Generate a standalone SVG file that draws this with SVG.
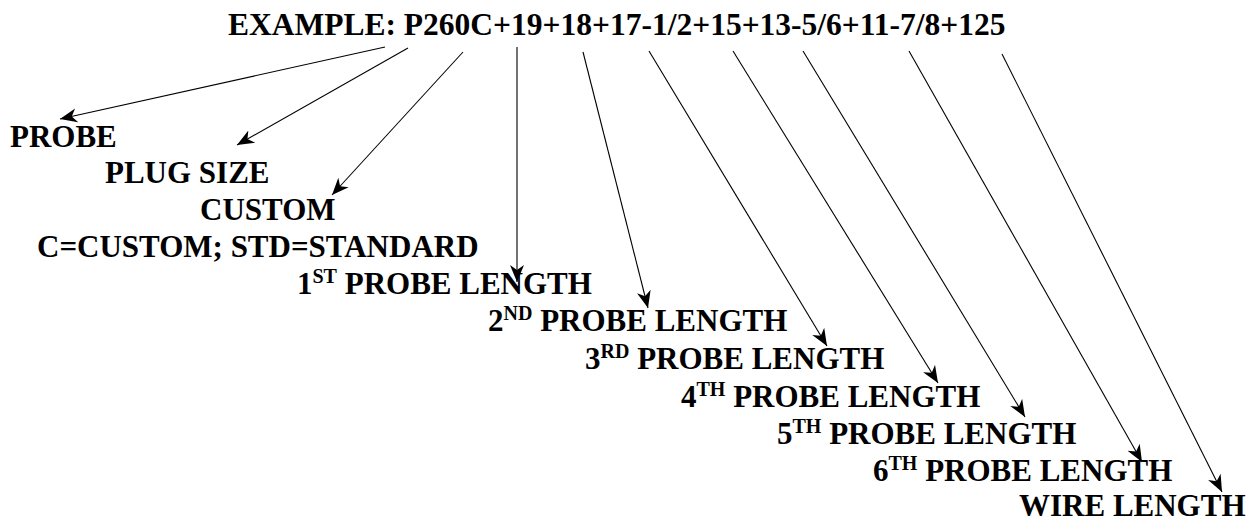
<svg xmlns="http://www.w3.org/2000/svg" width="1254" height="523" viewBox="0 0 1254 523">
<style>
text{font-family:"Liberation Serif","Times New Roman",serif;font-weight:bold;font-size:31px;fill:#000}
.sup{font-size:20px}
.c line{stroke:#000;stroke-width:1.1;marker-end:url(#ah)}
</style>
<defs>
<marker id="ah" markerUnits="userSpaceOnUse" viewBox="-17 -8 18 16" refX="0" refY="0" markerWidth="18" markerHeight="16" orient="auto">
<path d="M0,0 L-17,-7 L-12,0 L-17,7 Z" fill="#000"/>
</marker>
</defs>
<rect width="1254" height="523" fill="#fff"/>
<g id="title"><text x="228" y="35" style="font-size:31.5px">EXAMPLE: P260C+19+18+17-1/2+15+13-5/6+11-7/8+125</text></g>
<g id="probe"><text x="10" y="147">PROBE</text></g>
<g id="plugsize"><text x="105" y="183">PLUG SIZE</text></g>
<g id="custom"><text x="200" y="220">CUSTOM</text></g>
<g id="cstd"><text x="37" y="257">C=CUSTOM; STD=STANDARD</text></g>
<g id="p1"><text x="297" y="294">1<tspan class="sup" dy="-11">ST</tspan><tspan dy="11"> PROBE LENGTH</tspan></text></g>
<g id="p2"><text x="488" y="331">2<tspan class="sup" dy="-11">ND</tspan><tspan dy="11"> PROBE LENGTH</tspan></text></g>
<g id="p3"><text x="585" y="369">3<tspan class="sup" dy="-11">RD</tspan><tspan dy="11"> PROBE LENGTH</tspan></text></g>
<g id="p4"><text x="681" y="407">4<tspan class="sup" dy="-11">TH</tspan><tspan dy="11"> PROBE LENGTH</tspan></text></g>
<g id="p5"><text x="777" y="444">5<tspan class="sup" dy="-11">TH</tspan><tspan dy="11"> PROBE LENGTH</tspan></text></g>
<g id="p6"><text x="873" y="481">6<tspan class="sup" dy="-11">TH</tspan><tspan dy="11"> PROBE LENGTH</tspan></text></g>
<g id="wire"><text x="1019" y="516">WIRE LENGTH</text></g>
<g id="connectors" class="c">
<line x1="385" y1="47" x2="60" y2="119"/>
<line x1="408" y1="48" x2="237" y2="145"/>
<line x1="463" y1="52" x2="332" y2="195"/>
<line x1="517" y1="47" x2="517" y2="282"/>
<line x1="583" y1="52" x2="648" y2="308"/>
<line x1="649" y1="51" x2="827" y2="346"/>
<line x1="733" y1="51" x2="938" y2="383"/>
<line x1="803" y1="51" x2="1025" y2="417"/>
<line x1="909" y1="51" x2="1142" y2="462"/>
<line x1="1002" y1="54" x2="1222" y2="492"/>
</g>
</svg>
